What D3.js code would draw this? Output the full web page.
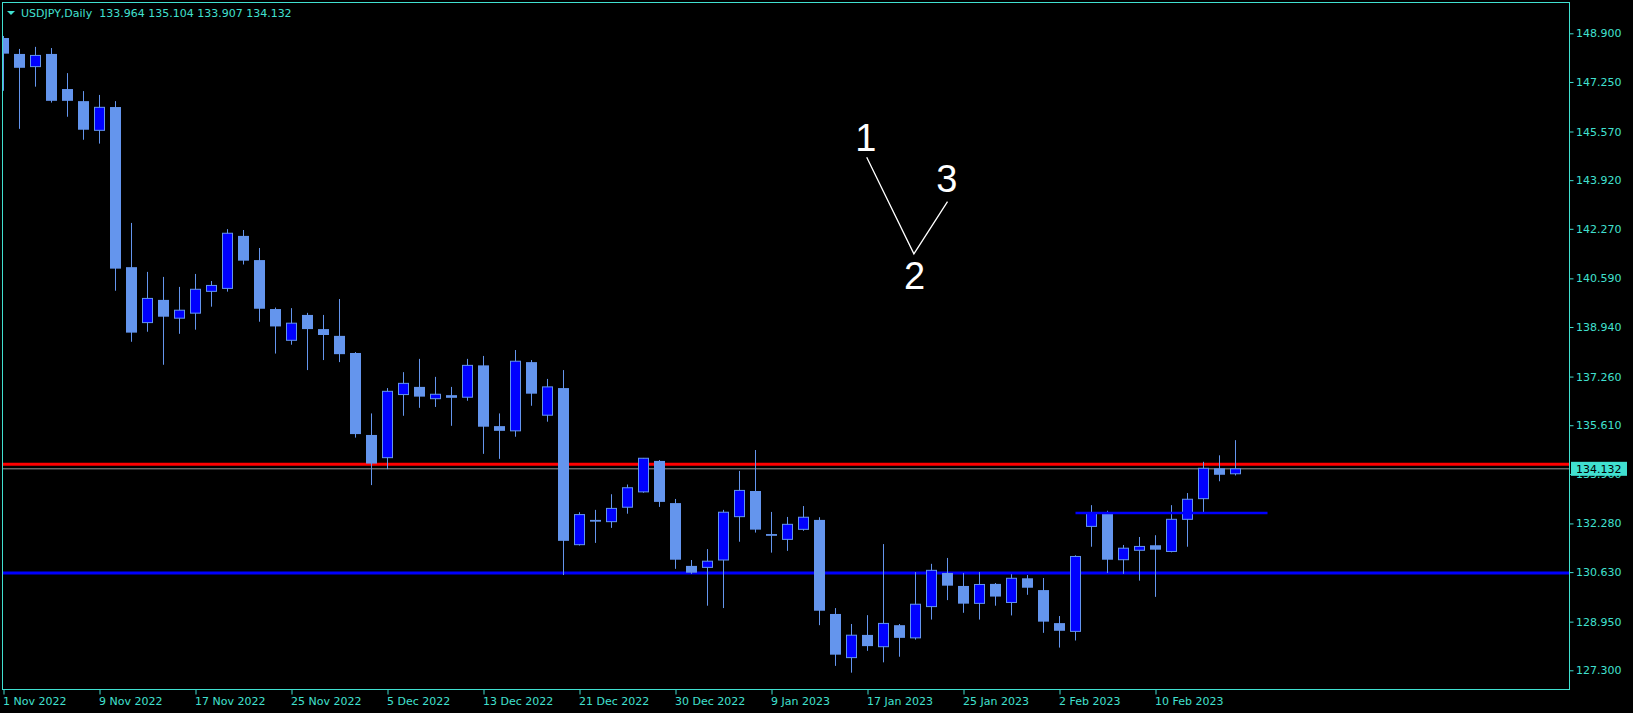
<!DOCTYPE html>
<html><head><meta charset="utf-8">
<script src="https://cdn.jsdelivr.net/npm/d3@7"></script>
<style>html,body{margin:0;padding:0;background:#000;overflow:hidden}</style>
</head><body><svg id="c" width="1633" height="713"></svg>
<script>
// ---------- DATA ----------
const symbol = "USDJPY,Daily";
const headerOHLC = ["133.964", "135.104", "133.907", "134.132"];
const opens = [148.74,148.20,147.77,148.20,147.01,146.60,145.61,146.40,140.97,139.09,
  139.86,139.24,139.41,140.15,140.25,142.03,141.21,139.55,138.49,139.35,
  138.87,138.64,138.06,135.28,134.51,136.65,136.91,136.51,136.63,136.56,
  137.64,135.58,135.42,137.75,135.95,136.87,131.56,132.40,132.34,132.83,
  133.35,134.40,132.97,130.84,130.79,131.04,132.51,133.38,131.92,131.74,
  132.08,132.40,129.21,127.73,128.50,128.10,128.83,128.40,129.46,130.60,
  130.16,129.57,130.23,129.60,130.42,130.02,128.90,128.62,132.18,132.61,
  131.05,131.37,131.54,131.33,132.42,133.12,134.15,133.964];
const highs = [148.81,148.37,148.44,148.40,147.55,146.94,146.81,146.60,142.47,140.81,
  140.64,140.30,140.74,140.50,142.26,142.23,141.62,139.60,139.58,139.42,
  139.35,139.89,138.09,136.01,136.87,137.41,137.86,137.25,136.91,137.86,
  137.96,136.01,138.16,137.82,137.18,137.48,132.66,132.74,133.27,133.60,
  134.50,134.43,133.11,131.04,131.41,132.74,134.06,134.77,132.67,132.50,
  132.87,132.49,129.41,128.87,129.17,131.58,128.87,130.63,130.91,131.11,
  130.60,130.63,130.26,130.56,130.53,130.43,129.14,131.20,132.90,132.71,
  131.55,131.82,131.88,132.90,133.31,134.37,134.59,135.104];
const lows = [146.95,145.66,147.09,146.55,146.07,145.29,145.16,140.17,138.44,138.78,
  137.66,138.71,138.85,139.63,140.14,141.06,139.12,138.04,138.34,137.48,
  137.82,137.75,135.19,133.58,134.12,135.93,136.20,136.23,135.59,136.44,
  134.64,134.47,135.22,136.27,135.73,130.53,131.53,131.62,132.13,132.61,
  133.32,132.84,130.74,130.57,129.49,129.41,131.66,131.97,131.29,131.35,
  132.03,128.83,127.45,127.22,127.96,127.57,127.76,128.34,129.02,129.68,
  129.25,129.02,129.49,129.16,129.86,128.57,128.07,128.31,131.49,130.60,
  130.57,130.34,129.79,131.30,131.49,132.66,133.71,133.907];
const closes = [148.21,147.73,148.15,146.61,146.61,145.63,146.39,140.92,138.75,139.91,
  139.29,139.51,140.22,140.35,142.12,141.19,139.56,138.96,139.07,138.87,
  138.67,138.02,135.31,134.31,136.76,137.03,136.58,136.66,136.54,137.64,
  135.56,135.42,137.78,136.68,136.91,131.69,132.58,132.34,132.79,133.49,
  134.49,133.01,131.05,130.61,131.00,132.66,133.40,132.07,131.86,132.25,
  132.49,129.32,127.83,128.49,128.12,128.89,128.40,129.54,130.69,130.17,
  129.56,130.21,129.80,130.42,130.10,128.95,128.64,131.16,132.62,131.05,
  131.44,131.50,131.39,132.42,133.10,134.15,133.93,134.132];
const tickIdx = [0,6,12,18,24,30,36,42,48,54,60,66,72];
const tickLabels = ["1 Nov 2022","9 Nov 2022","17 Nov 2022","25 Nov 2022","5 Dec 2022",
  "13 Dec 2022","21 Dec 2022","30 Dec 2022","9 Jan 2023","17 Jan 2023","25 Jan 2023",
  "2 Feb 2023","10 Feb 2023"];
const yTicks = [148.900,147.250,145.570,143.920,142.270,140.590,138.940,137.260,
  135.610,133.960,132.280,130.630,128.950,127.300];
const lastPrice = 134.132;
const redLevel = 134.29;
const blueLevel = 130.60;
const shortLevel = 132.63, shortLevelFrom = 67, shortLevelTo = 79;
const annoLabels = ["1","2","3"];
const annoIdx = [53.9, 56.94, 58.95];
const annoPrice = [144.91, 140.24, 143.52];
const annoLineIdx = [53.95, 56.9, 59.0];
const annoLinePrice = [144.70, 141.42, 143.19];

// ---------- DRAW ----------
const FG = "#40E0D0", UPFILL = "#0000FF", CANDLE = "#6495ED";
const svg = d3.select("#c");
svg.append("rect").attr("width",1633).attr("height",713).attr("fill","#000");

const L = 2.5, T = 2.5, R = 1569.5, B = 689.5;
const x = d3.scaleLinear().domain([0, 77]).range([3.5, 3.5 + 16*77]);
const y = d3.scaleLinear().domain([127.3, 148.9]).range([670.3, 33.3]);

svg.append("clipPath").attr("id","plot").append("rect")
  .attr("x",3).attr("y",3).attr("width",R-3).attr("height",B-3);
const g = svg.append("g").attr("clip-path","url(#plot)");

const bars = d3.range(opens.length).map(i => ({i, o:opens[i], h:highs[i], l:lows[i], c:closes[i]}));

// horizontal levels
g.append("line").attr("x1",L).attr("x2",R).attr("y1",y(redLevel)).attr("y2",y(redLevel))
  .attr("stroke","#FF0000").attr("stroke-width",3);
g.append("line").attr("x1",L).attr("x2",R).attr("y1",y(lastPrice)).attr("y2",y(lastPrice))
  .attr("stroke","#9a9a9a").attr("stroke-width",1);
g.append("line").attr("x1",L).attr("x2",R).attr("y1",y(blueLevel)).attr("y2",y(blueLevel))
  .attr("stroke","#0000FF").attr("stroke-width",3);

// wicks
g.selectAll("line.wick").data(bars).join("line").attr("class","wick")
  .attr("x1",d=>x(d.i)).attr("x2",d=>x(d.i))
  .attr("y1",d=>y(d.h)).attr("y2",d=>y(d.l))
  .attr("stroke",CANDLE).attr("stroke-width",1);
// bodies
g.selectAll("rect.body").data(bars).join("rect").attr("class","body")
  .attr("x",d=> d.c>d.o ? x(d.i)-5 : x(d.i)-5.5)
  .attr("width",d=> d.c>d.o ? 10 : 11)
  .attr("y",d=> d.c>d.o ? y(d.c) : y(d.o))
  .attr("height",d=> Math.max(1, Math.abs(y(d.o)-y(d.c))))
  .attr("fill",d=> d.c>d.o ? UPFILL : CANDLE)
  .attr("stroke",d=> d.c>d.o ? CANDLE : "none")
  .attr("stroke-width",1);

// short level
g.append("line").attr("x1",x(shortLevelFrom)).attr("x2",x(shortLevelTo))
  .attr("y1",y(shortLevel)).attr("y2",y(shortLevel))
  .attr("stroke","#0000FF").attr("stroke-width",2.5);

// annotation
g.append("path")
  .attr("d", d3.line()(annoLineIdx.map((v,k)=>[x(v), y(annoLinePrice[k])])))
  .attr("fill","none").attr("stroke","#fff").attr("stroke-width",1.3);
g.selectAll("text.anno").data(annoLabels).join("text").attr("class","anno")
  .attr("x",(d,k)=>x(annoIdx[k])).attr("y",(d,k)=>y(annoPrice[k]))
  .attr("text-anchor","middle").attr("fill","#fff")
  .attr("font-family","'Liberation Sans', Arial, sans-serif").attr("font-size",38)
  .text(d=>d);

// frame
svg.append("rect").attr("x",L).attr("y",T).attr("width",R-L).attr("height",B-T)
  .attr("fill","none").attr("stroke",FG).attr("stroke-width",1);

const font = "'DejaVu Sans', Verdana, sans-serif";
// y axis
const ya = svg.append("g").attr("transform",`translate(${R},0)`)
  .call(d3.axisRight(y).tickValues(yTicks).tickFormat(d3.format(".3f")).tickSize(4).tickSizeOuter(0));
ya.select(".domain").remove();
ya.selectAll("line").attr("stroke",FG);
ya.selectAll("text").attr("fill",FG).attr("font-family",font).attr("font-size",11).attr("x",6.5);

// x axis
const xa = svg.append("g").attr("transform",`translate(0,${B})`)
  .call(d3.axisBottom(x).tickValues(tickIdx).tickFormat((d,k)=>tickLabels[k]).tickSize(5).tickSizeOuter(0));
xa.select(".domain").remove();
xa.selectAll("line").attr("stroke",FG);
xa.selectAll("text").attr("fill",FG).attr("font-family",font).attr("font-size",11)
  .attr("text-anchor","start").attr("x",-1).attr("dy",null).attr("y",15.5);

// price label box
const py = y(lastPrice);
svg.append("rect").attr("x",R+1.5).attr("y",py-7).attr("width",56).attr("height",14).attr("fill",FG);
svg.append("text").attr("x",R+6.5).attr("y",py).attr("dy","0.36em").attr("fill","#000")
  .attr("font-family",font).attr("font-size",11).text(d3.format(".3f")(lastPrice));

// header
svg.append("path").attr("d","M7,11 L15,11 L11,15 Z").attr("fill",FG);
svg.append("text").attr("x",21).attr("y",17).attr("fill",FG).attr("font-family",font)
  .attr("font-size",11).attr("xml:space","preserve")
  .text(symbol + "  " + headerOHLC.join(" "));
</script></body></html>
